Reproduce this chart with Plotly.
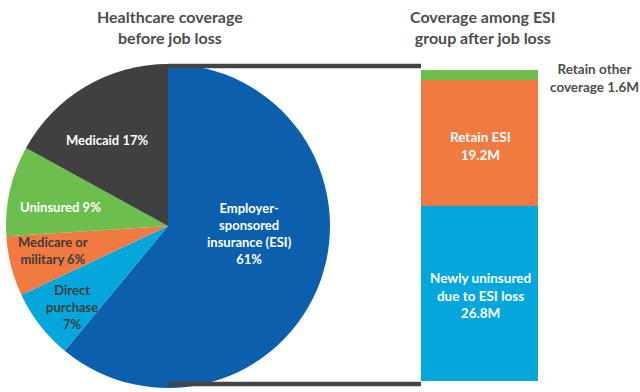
import plotly.graph_objects as go

# Pie data (before job loss)
pie_labels = ["Employer-sponsored insurance (ESI)", "Direct purchase", "Medicare or military", "Uninsured", "Medicaid"]
pie_values = [61, 7, 6, 9, 17]
pie_colors = ["#0b5fad", "#03a7dc", "#f07a40", "#6cbf4d", "#404040"]
pie_text = ["Employer-<br>sponsored<br>insurance (ESI)<br>61%", "Direct<br>purchase<br>7%",
            "Medicare or<br>military 6%", "Uninsured 9%", "Medicaid 17%"]

# Bar data (ESI group after job loss), millions
bar_labels = ["Newly uninsured due to ESI loss", "Retain ESI", "Retain other coverage"]
bar_values = [26.8, 19.2, 1.6]
bar_colors = ["#03a7dc", "#f07a40", "#6cbf4d"]
bar_text = ["Newly uninsured<br>due to ESI loss<br>26.8M", "Retain ESI<br>19.2M", "Retain other<br>coverage 1.6M"]

W, H = 640, 392
def px(x): return x / W
def py(y): return 1 - y / H

FONT = "Lato, 'Open Sans', sans-serif"
TXT = "#4d4d4d"
DARK = "#3d3d3d"

fig = go.Figure()
fig.add_trace(go.Pie(
    labels=pie_labels, values=pie_values, sort=False, direction="clockwise", rotation=0,
    marker=dict(colors=pie_colors, line=dict(width=0)), textinfo="none", hoverinfo="label+percent",
    domain=dict(x=[px(6), px(330)], y=[py(388), py(64)]), showlegend=False,
))

total = sum(bar_values)
for lab, v, c in zip(bar_labels, bar_values, bar_colors):
    fig.add_trace(go.Bar(x=[0], y=[v], name=lab, marker=dict(color=c, line=dict(width=0)),
                         width=1, showlegend=False, hoverinfo="name+y"))

fig.update_layout(
    width=W, height=H, margin=dict(l=0, r=0, t=0, b=0),
    paper_bgcolor="white", plot_bgcolor="rgba(0,0,0,0)",
    barmode="stack", font=dict(family=FONT),
    xaxis=dict(domain=[px(421), px(538)], range=[-0.5, 0.5], visible=False, fixedrange=True),
    yaxis=dict(domain=[py(381), py(70)], range=[0, total], visible=False, fixedrange=True),
)

# connecting lines
for y in (66, 384):
    fig.add_shape(type="line", xref="paper", yref="paper", x0=px(168), x1=px(421), y0=py(y), y1=py(y),
                  line=dict(color="#444444", width=4.5), layer="above")

def ann(text, x, y, color, size=13):
    fig.add_annotation(text=text, x=px(x), y=py(y), xref="paper", yref="paper", showarrow=False,
                       xanchor="center", yanchor="middle", align="center",
                       font=dict(family=FONT, size=size, color=color, weight="bold"))

# titles
ann("Healthcare coverage<br>before job loss", 170, 27, TXT, 16)
ann("Coverage among ESI<br>group after job loss", 483, 27, TXT, 16)

# pie labels
pie_pos = [(249, 233), (72, 307), (53, 251), (60, 207), (107, 140)]
pie_tcol = ["white", DARK, DARK, "white", "white"]
for t, (x, y), c in zip(pie_text, pie_pos, pie_tcol):
    ann(t, x, y, c, 13)

# bar labels
bar_pos = [(480, 295), (480, 146), (594, 78)]
bar_tcol = ["white", "white", TXT]
for t, (x, y), c in zip(bar_text, bar_pos, bar_tcol):
    ann(t, x, y, c, 13.5)

fig.write_html("out.html", config={"displayModeBar": False},
               post_script="document.body.style.margin='0';document.body.style.overflow='hidden';")
